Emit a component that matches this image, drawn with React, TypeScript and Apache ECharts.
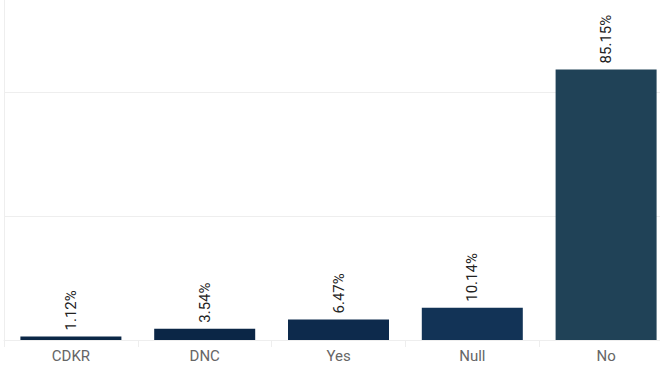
import React, { useEffect, useRef } from "react";
import * as echarts from "echarts";

const categories = ["CDKR", "DNC", "Yes", "Null", "No"];
const values = [1.12, 3.54, 6.47, 10.14, 85.15];
const barColors = ["#0b2746", "#0b2646", "#0d2a4c", "#123356", "#204257"];

export default function App() {
  const ref = useRef<HTMLDivElement>(null);
  useEffect(() => {
    if (!ref.current) return;
    const chart = echarts.init(ref.current, undefined, { renderer: "svg" });
    chart.setOption({
      animation: false,
      grid: { left: 4, top: 0, bottom: 26, right: 8, containLabel: false, outerBoundsMode: "none" },
      xAxis: {
        type: "category",
        data: categories,
        axisLine: { show: true, lineStyle: { color: "#eeeeee", width: 1 } },
        axisTick: { show: true, length: 7, lineStyle: { color: "#eeeeee" } },
        axisLabel: { color: "#666666", fontSize: 15, fontFamily: "Roboto", margin: 8 },
      },
      yAxis: {
        type: "value",
        min: 0,
        max: 107,
        interval: 39,
        axisLine: { show: true, lineStyle: { color: "#eeeeee" } },
        axisTick: { show: false },
        axisLabel: { show: false },
        splitLine: { show: true, showMaxLine: false, lineStyle: { color: "#eeeeee" } },
      },
      series: [
        {
          type: "bar",
          barWidth: 101,
          data: values.map((v, i) => ({ value: v, itemStyle: { color: barColors[i] } })),
          label: {
            show: true,
            position: "top",
            rotate: 90,
            align: "left",
            verticalAlign: "middle",
            distance: 6,
            fontSize: 15,
            fontFamily: "Roboto",
            color: "#222222",
            formatter: (p: any) => p.value.toFixed(2) + "%",
          },
        },
      ],
    });
    return () => chart.dispose();
  }, []);
  return (
    <div style={{ position: "fixed", left: 0, top: 0, width: 660, height: 366, overflow: "hidden", background: "#fff" }}>
      <div ref={ref} style={{ width: 681, height: 366 }} />
    </div>
  );
}
